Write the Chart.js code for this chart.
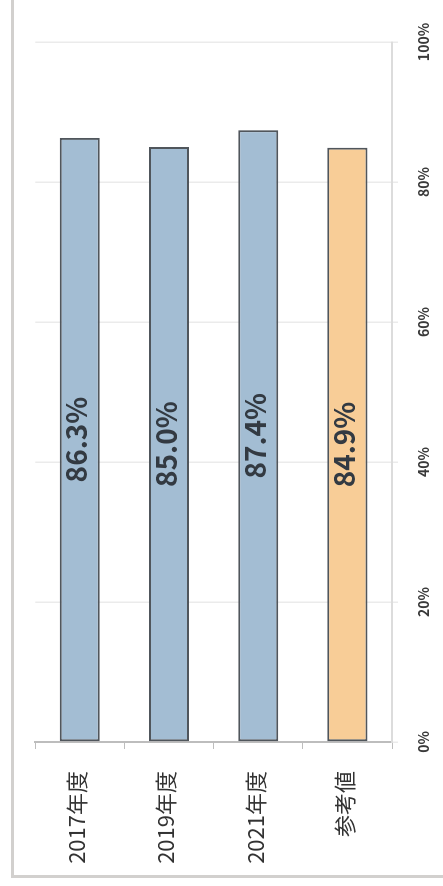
<!DOCTYPE html>
<html lang="ja">
<head>
<meta charset="utf-8">
<title>年度別比較</title>
<script src="https://cdn.jsdelivr.net/npm/chart.js@4.4.1/dist/chart.umd.min.js"></script>
<style>
  html, body { margin: 0; padding: 0; background: #fff; overflow: hidden; }
  body { width: 443px; height: 886px; position: relative; }
  /* chart is laid out landscape and turned a quarter turn */
  #wrap {
    position: absolute; left: 0; top: 0;
    width: 886px; height: 443px;
    transform-origin: 0 0;
    transform: translateY(886px) rotate(-90deg);
  }
  #frame {
    position: absolute; left: 8px; top: 11px;
    width: 900px; height: 460px;
    border-left: 3px solid #d2d0ce;
    border-top: 3px solid #d2d0ce;
  }
  #chart { position: absolute; left: 0; top: 0; }
</style>
</head>
<body>
<div id="wrap">
  <div id="frame"></div>
  <canvas id="chart" width="886" height="443"></canvas>
</div>
<script>
const categories = ['2017年度', '2019年度', '2021年度', '参考値'];
const rates = [86.3, 85.0, 87.4, 84.9];
const fillColors = ['#a3bdd3', '#a3bdd3', '#a3bdd3', '#f8cd97'];
const tickValues = [0, 20, 40, 60, 80, 100];

const FONT = "'Noto Sans CJK JP', 'Noto Sans', sans-serif";

// value text in the middle of each bar
const barLabels = {
  id: 'barLabels',
  afterDatasetsDraw(chart) {
    const ctx = chart.ctx;
    const meta = chart.getDatasetMeta(0);
    ctx.save();
    ctx.font = '600 28px ' + FONT;
    ctx.fillStyle = '#333a42';
    ctx.textAlign = 'center';
    ctx.textBaseline = 'middle';
    meta.data.forEach((bar, i) => {
      const v = chart.data.datasets[0].data[i];
      ctx.fillText(v.toFixed(1) + '%', (bar.base + bar.x) / 2, bar.y - 3);
    });
    ctx.restore();
  }
};

new Chart(document.getElementById('chart'), {
  type: 'bar',
  data: {
    labels: categories,
    datasets: [{
      data: rates,
      backgroundColor: fillColors,
      borderColor: '#50565c',
      borderWidth: 2,
      borderSkipped: false,
      categoryPercentage: 1,
      barPercentage: 0.45
    }]
  },
  options: {
    indexAxis: 'y',
    responsive: false,
    animation: false,
    events: [],
    layout: { padding: { top: 32, right: 42, left: 0, bottom: 0 } },
    plugins: {
      legend: { display: false },
      tooltip: { enabled: false }
    },
    scales: {
      y: {
        afterFit(scale) { scale.width = 144; },
        grid: {
          drawOnChartArea: false,
          drawTicks: true,
          tickLength: 7,
          color: '#bdbdbd'
        },
        border: { color: '#bdbdbd', width: 2 },
        ticks: {
          padding: 22,
          labelOffset: -3,
          color: '#333',
          font: { family: FONT, size: 22 }
        }
      },
      x: {
        min: 0,
        max: 100,
        afterFit(scale) { scale.height = 51; },
        afterBuildTicks(scale) {
          scale.ticks = tickValues.map(v => ({ value: v }));
        },
        grid: {
          color: '#ebebeb',
          lineWidth: 1.5,
          drawTicks: true,
          tickLength: 6
        },
        border: { color: '#dcdcdc', width: 2 },
        ticks: {
          padding: 17,
          color: '#3a3a3a',
          font: { family: FONT, size: 14, weight: '600' },
          callback: v => v + '%'
        }
      }
    }
  },
  plugins: [barLabels]
});
</script>
</body>
</html>
